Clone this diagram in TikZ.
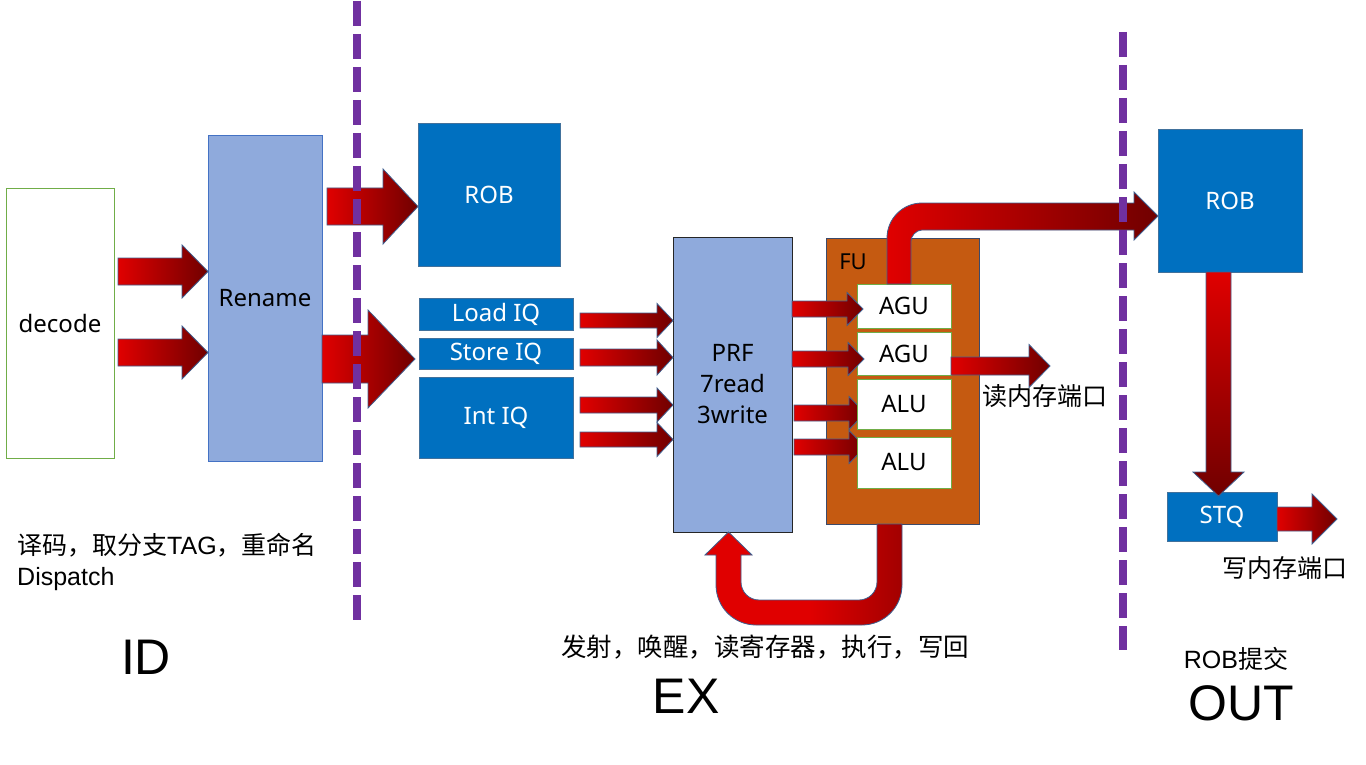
\documentclass[tikz,border=0pt]{standalone}
\usepackage{fontspec}
\setmainfont{Liberation Sans}
\newfontfamily\cjk{Noto Sans CJK SC}
\newfontfamily\uifont{Noto Sans}
\usetikzlibrary{calc}
\definecolor{arrred}{HTML}{E00000}
\definecolor{arrdark}{HTML}{700000}
\definecolor{arrline}{HTML}{3F5F8F}
\definecolor{purp}{HTML}{7030A0}
\definecolor{lblue}{HTML}{8FAADC}
\definecolor{lblueline}{HTML}{4472C4}
\definecolor{robblue}{HTML}{0070C0}
\definecolor{robline}{HTML}{41719C}
\definecolor{fuorange}{HTML}{C55A11}
\definecolor{fuline}{HTML}{3B4A6B}
\definecolor{ggreen}{HTML}{70AD47}
\pgfdeclarelayer{bg}
\pgfdeclarelayer{back}
\pgfsetlayers{bg,back,main}
\newcommand\blockarrow[6][]{%
  \path[arrowshade,#1] let \p1=#2, \p2=#3 in
   (\x1,\y1+#4) -- (\x2-#6,\y1+#4) -- (\x2-#6,\y1+#5) -- (\x2,\y1) --
   (\x2-#6,\y1-#5) -- (\x2-#6,\y1-#4) -- (\x1,\y1-#4) -- cycle;}
\begin{document}
\begin{tikzpicture}[x=1pt,y=-1pt,
  box/.style={anchor=north west, inner sep=0pt, outer sep=0pt, line width=1pt,
    font=\uifont\fontsize{24}{31}\selectfont, align=center},
  bluebox/.style={box, fill=robblue, draw=robline, text=white},
  lightbox/.style={box, fill=lblue, draw=lblueline},
  unitbox/.style={box, fill=white, draw=ggreen},
  arrowshade/.style={left color=arrred, right color=arrdark, draw=arrline, line width=0.8pt},
  lbl/.style={inner sep=0pt, font=\fontsize{25}{30}\selectfont},
  stage/.style={inner sep=0pt, font=\fontsize{50}{56}\selectfont},
  divider/.style={purp, line width=8pt, dash pattern=on 25pt off 8pt}]
\useasboundingbox (0,0) rectangle (1366,765);
\begin{pgfonlayer}{bg}
\fill[white] (0,0) rectangle (1366,765);
\end{pgfonlayer}

% boxes
\node[unitbox, minimum width=108pt, minimum height=269pt] (decode) at (6,189) {decode};
\node[lightbox, minimum width=114pt, minimum height=325pt] (rename) at (208,136) {Rename};
\node[bluebox, minimum width=142pt, minimum height=142pt] (rob1) at (418,124) {ROB};
\node[bluebox, minimum width=154pt, minimum height=32pt] (loadiq) at (419,298) {Load IQ};
\node[bluebox, minimum width=154pt, minimum height=31pt] (storeiq) at (419,338) {Store IQ};
\node[bluebox, minimum width=154pt, minimum height=81pt] (intiq) at (419,377) {Int IQ};
\node[lightbox, draw=black!85, minimum width=119pt, minimum height=295pt] (prf) at (673,237) {PRF\\7read\\3write};
\begin{pgfonlayer}{back}
\node[box, fill=fuorange, draw=fuline, minimum width=153pt, minimum height=286pt] (fu) at (826,238) {};
\end{pgfonlayer}
\node[inner sep=0pt, font=\uifont\fontsize{22}{26}\selectfont] (fulabel) at (853,262) {FU};
\node[unitbox, minimum width=94pt, minimum height=44pt] (agu1) at (857,284) {AGU};
\node[unitbox, minimum width=94pt, minimum height=43pt] (agu2) at (857,332) {AGU};
\node[unitbox, minimum width=94pt, minimum height=50pt] (alu1) at (857,379) {ALU};
\node[unitbox, minimum width=94pt, minimum height=51pt] (alu2) at (857,437) {ALU};
\node[bluebox, minimum width=144pt, minimum height=142pt] (rob2) at (1158,130) {ROB};
\node[bluebox, minimum width=110pt, minimum height=49pt] (stq) at (1167,492) {STQ};

% straight block arrows
\blockarrow{(118,271.5)}{(rename.west)}{13.5}{26.5}{26}
\blockarrow{(118,352.5)}{(rename.west)}{13.5}{26.5}{26}
\blockarrow{(327,206.5)}{(rob1.west)}{18.5}{37.5}{35}
\blockarrow{(322,359)}{($(storeiq.west)+(-4,0)$)}{24}{49}{47}
\blockarrow{(580,320.5)}{(prf.west)}{7.5}{17}{16}
\blockarrow{(580,357.5)}{(prf.west)}{8.5}{17.5}{16}
\blockarrow{(580,405)}{(prf.west)}{8}{17}{16}
\blockarrow{(580,439.5)}{(prf.west)}{7.5}{17}{16}
\blockarrow{(prf.east |- 0,309)}{($(agu1.west)+(6,0)$)}{8}{16.5}{16}
\blockarrow{(prf.east |- 0,359)}{($(agu2.west)+(7,0)$)}{8}{16.5}{16}
\begin{pgfonlayer}{back}
\blockarrow{(794,413)}{($(alu1.west)+(8,0)$)}{8}{16.5}{16}
\blockarrow{(794,447)}{($(alu2.west)+(8,0)$)}{8}{16.5}{16}
\end{pgfonlayer}
\blockarrow{(agu2.east |- 0,366)}{(1050,366)}{9}{21.5}{21}
\blockarrow{(stq.east |- 0,519)}{(1337,519)}{12}{25}{25}

% AGU -> ROB (bent arrow)
\path[arrowshade] (887,284) -- (887,238) .. controls (887,218.7) and (902.7,203) .. (922,203)
  -- (1134,203) -- (1134,192) -- (rob2.west |- 0,216) -- (1134,240) -- (1134,230)
  -- (922,230) .. controls (915.9,230) and (911,236.1) .. (911,241) -- (911,284) -- cycle;

% FU -> PRF (write back U arrow)
\path[save path=\ushape]
  (877,524) -- (877,582) .. controls (877,591.9) and (868.9,600) .. (859,600)
  -- (759,600) .. controls (749.1,600) and (741,591.9) .. (741,582)
  -- (741,555) -- (752,555) -- (prf.south -| 728.5,0) -- (705,555) -- (716,555)
  -- (716,585) .. controls (716,607.1) and (733.9,625) .. (756,625)
  -- (862,625) .. controls (884.1,625) and (902,607.1) .. (902,585)
  -- (902,524) -- cycle;
\begin{scope}
\clip[use path=\ushape];
\shade[left color=arrred, right color=arrdark, middle color=arrred, rotate around={-40:(810,575)}]
  (690,460) rectangle (930,690);
\end{scope}
\draw[arrline, line width=0.8pt, use path=\ushape];

% ROB -> STQ
\path[top color=arrred, bottom color=arrdark, draw=arrline, line width=0.8pt]
  (1206,272) -- (1206,472) -- (1193,472) -- (1218.5,496) -- (1244,472) -- (1231,472) -- (1231,272) -- cycle;

% texts
\node[lbl, anchor=west] (rdport) at (982,396) {\cjk 读内存端口};
\node[lbl] (wrport) at (1285,568) {\cjk 写内存端口};
\node[lbl, anchor=base west] (idtext) at (17,554) {{\cjk 译码，取分支}TAG{\cjk ，重命名}};
\node[lbl, anchor=base west] (dispatch) at (17,585) {Dispatch};
\node[lbl, font=\fontsize{25.5}{30}\selectfont] (extext) at (765,647) {\cjk 发射，唤醒，读寄存器，执行，写回};
\node[lbl] (robcommit) at (1236,659) {ROB{\cjk 提交}};
\node[stage] (id) at (146,657) {ID};
\node[stage] (ex) at (686,696) {EX};
\node[stage] (out) at (1241,703) {OUT};

% stage dividers
\draw[divider] (357,1) -- (357,620);
\draw[divider] (1123,32) -- (1123,650);
\end{tikzpicture}
\end{document}
